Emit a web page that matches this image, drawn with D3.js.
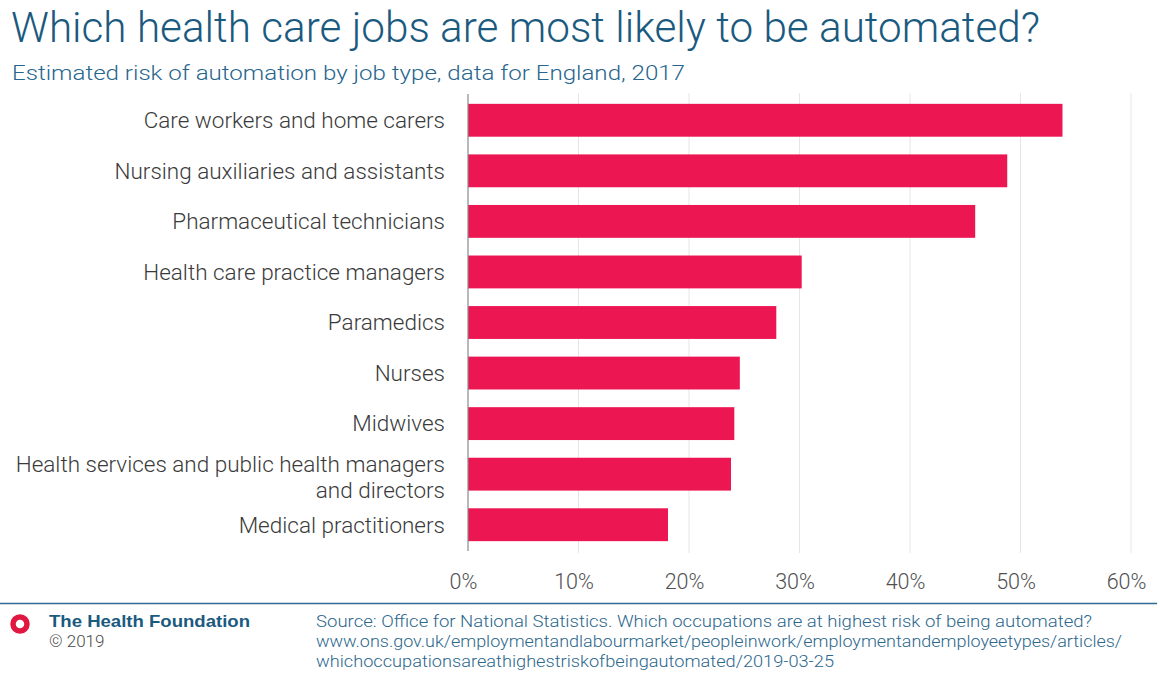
<!DOCTYPE html>
<html lang="en">
<head>
  <meta charset="UTF-8">
  <script src="https://d3js.org/d3.v7.min.js"></script>
  <style>
    body { margin: 0; background: #fff; }
    svg { display: block; }
  </style>
</head>
<body>
<div id="chart"></div>
<script>
// data
const jobs = [
  'Care workers and home carers',
  'Nursing auxiliaries and assistants',
  'Pharmaceutical technicians',
  'Health care practice managers',
  'Paramedics',
  'Nurses',
  'Midwives',
  'Health services and public health managers|and directors',
  'Medical practitioners'
];
const risk = [53.8, 48.8, 45.9, 30.2, 27.9, 24.6, 24.1, 23.8, 18.1];
const tickValues = [0, 10, 20, 30, 40, 50, 60];

const title = 'Which health care jobs are most likely to be automated?';
const subtitle = 'Estimated risk of automation by job type, data for England, 2017';
const sourceLines = [
  'Source: Office for National Statistics. Which occupations are at highest risk of being automated?',
  'www.ons.gov.uk/employmentandlabourmarket/peopleinwork/employmentandemployeetypes/articles/',
  'whichoccupationsareathighestriskofbeingautomated/2019-03-25'
];

const width = 1160, height = 683;
const font = "'Roboto', 'Liberation Sans', sans-serif";
const blue = '#1b5a7f';

const svg = d3.select('#chart').append('svg')
  .attr('width', width)
  .attr('height', height);

svg.append('text')
  .attr('x', 11).attr('y', 42)
  .attr('font-family', font).attr('font-weight', 300)
  .attr('font-size', 42).attr('fill', blue)
  .attr('textLength', 1029).attr('lengthAdjust', 'spacingAndGlyphs')
  .text(title);

svg.append('text')
  .attr('x', 12).attr('y', 80)
  .attr('font-family', font).attr('font-weight', 300)
  .attr('font-size', 20.5).attr('fill', '#26658d')
  .attr('textLength', 673).attr('lengthAdjust', 'spacingAndGlyphs')
  .text(subtitle);

const x = d3.scaleLinear().domain([0, 60]).range([468, 1131]);
const y = d3.scaleBand().domain(jobs).range([95, 550])
  .paddingInner(0.35).paddingOuter(0.175);

// gridlines
svg.append('g')
  .selectAll('line')
  .data(tickValues.slice(1))
  .join('line')
  .attr('x1', d => x(d)).attr('x2', d => x(d))
  .attr('y1', 93).attr('y2', 553)
  .attr('stroke', '#e6e6e6').attr('stroke-width', 1);

// bars
svg.append('g')
  .selectAll('rect')
  .data(jobs)
  .join('rect')
  .attr('x', x(0))
  .attr('y', d => y(d))
  .attr('width', (d, i) => x(risk[i]) - x(0))
  .attr('height', y.bandwidth())
  .attr('fill', '#ec1752');

// zero axis line
svg.append('line')
  .attr('x1', x(0)).attr('x2', x(0))
  .attr('y1', 94).attr('y2', 551)
  .attr('stroke', '#8a8a8a').attr('stroke-width', 1.2);

// category labels
const labels = svg.append('g')
  .attr('font-family', font).attr('font-weight', 300)
  .attr('font-size', 22.5).attr('fill', '#3a3a3a')
  .attr('text-anchor', 'end');

jobs.forEach(j => {
  const lines = j.split('|');
  const cy = y(j) + y.bandwidth() / 2;
  const t = labels.append('text')
    .attr('y', cy - (lines.length - 1) * 10);
  lines.forEach((l, k) => {
    t.append('tspan').attr('x', 445).attr('dy', k === 0 ? '0.35em' : 26).text(l);
  });
});

// x axis tick labels
const xAxis = svg.append('g')
  .attr('transform', 'translate(0,589)')
  .call(d3.axisBottom(x).tickValues(tickValues).tickFormat(d => d + '%').tickSize(0).tickPadding(0));
xAxis.select('.domain').remove();
xAxis.selectAll('text')
  .attr('dy', 0)
  .attr('dx', -5)
  .attr('font-family', font).attr('font-weight', 300)
  .attr('font-size', 21.5).attr('fill', '#505050');

// footer
svg.append('line')
  .attr('x1', 0).attr('x2', 1157)
  .attr('y1', 603.5).attr('y2', 603.5)
  .attr('stroke', '#2e6a92').attr('stroke-width', 1.5);

svg.append('circle')
  .attr('cx', 20).attr('cy', 624).attr('r', 7)
  .attr('fill', 'none').attr('stroke', '#e0173f').attr('stroke-width', 5.5);

svg.append('text')
  .attr('x', 49).attr('y', 627)
  .attr('font-family', "'Liberation Sans', Arial, sans-serif").attr('font-weight', 700)
  .attr('font-size', 17).attr('fill', blue)
  .attr('textLength', 201).attr('lengthAdjust', 'spacingAndGlyphs')
  .text('The Health Foundation');

svg.append('text')
  .attr('x', 49).attr('y', 647)
  .attr('font-family', font).attr('font-weight', 300)
  .attr('font-size', 17).attr('fill', '#4a4a4a')
  .text('\u00A9 2019');

const srcWidths = [776, 806, 518];
svg.append('g')
  .selectAll('text')
  .data(sourceLines)
  .join('text')
  .attr('x', 316)
  .attr('y', (d, i) => 627 + i * 20)
  .attr('font-family', "'Roboto', 'Liberation Sans Narrow', sans-serif")
  .attr('font-weight', 300)
  .attr('font-size', 17).attr('fill', '#2c678d')
  .attr('textLength', (d, i) => srcWidths[i]).attr('lengthAdjust', 'spacingAndGlyphs')
  .text(d => d);
</script>
</body>
</html>
